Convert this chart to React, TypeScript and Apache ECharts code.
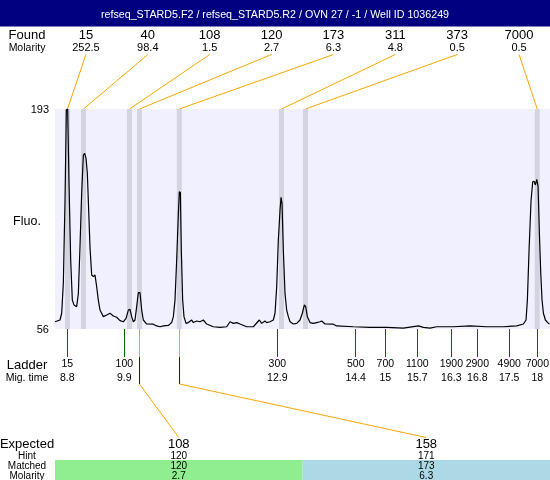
import React, { useEffect, useRef } from "react";
import * as echarts from "echarts";

const TITLE = "refseq_STARD5.F2 / refseq_STARD5.R2 / OVN 27 / -1 / Well ID 1036249";

const traceTimes = [
  8.56, 8.658, 8.691, 8.723, 8.756, 8.782, 8.808, 8.834, 8.867, 8.899, 8.932, 8.984,
  9.017, 9.049, 9.082, 9.115, 9.141, 9.167, 9.193, 9.219, 9.245, 9.278, 9.31, 9.343,
  9.376, 9.408, 9.441, 9.506, 9.572, 9.637, 9.702, 9.767, 9.833, 9.898, 9.95, 9.996,
  10.028, 10.061, 10.094, 10.126, 10.159, 10.191, 10.224, 10.257, 10.289, 10.355, 10.485,
  10.55, 10.616, 10.681, 10.779, 10.844, 10.877, 10.909, 10.942, 10.975, 10.994, 11.014,
  11.033, 11.059, 11.085, 11.125, 11.17, 11.236, 11.268, 11.333, 11.399, 11.464, 11.529,
  11.66, 11.79, 11.921, 11.986, 12.051, 12.117, 12.182, 12.312, 12.443, 12.56, 12.606,
  12.671, 12.704, 12.769, 12.834, 12.867, 12.9, 12.932, 12.965, 12.985, 13.004, 13.03,
  13.063, 13.095, 13.128, 13.161, 13.226, 13.291, 13.356, 13.402, 13.441, 13.467, 13.5,
  13.552, 13.617, 13.683, 13.748, 13.781, 13.846, 14.009, 14.074, 14.401, 14.727, 15.053,
  15.379, 15.673, 15.771, 15.901, 16.032, 16.358, 16.684, 17.011, 17.337, 17.598, 17.729,
  17.781, 17.807, 17.84, 17.879, 17.912, 17.938, 17.964, 17.991, 18.016, 18.042, 18.069,
  18.094, 18.121, 18.16, 18.206, 18.239,
];
const traceValues = [
  60.5, 61.6, 65.8, 84.4, 136, 192.5, 193, 147, 99, 74, 71, 69.9,
  78, 107, 140.5, 164.3, 165.4, 162.3, 153, 130, 107, 89.6, 88.6, 89.6,
  82.3, 74, 67.8, 63.7, 64.7, 65.8, 64.1, 63.3, 61.2, 60.5, 62.6, 67.8,
  68.2, 63.7, 60.5, 61.6, 69.9, 78.6, 78.6, 67.8, 61.6, 59.1, 59,
  57.9, 57.4, 57.9, 58.2, 60, 63.7, 74, 99, 128, 141.5, 141,
  105, 74, 63.7, 59.5, 60, 61.6, 60, 61, 60.5, 61.6, 59.1,
  57.4, 57, 57.4, 60.5, 59.5, 60, 59.1, 57.4, 57.4, 61.6, 59.5,
  61, 60, 60.5, 61.6, 65.8, 82.3, 111.4, 130, 138, 134.3, 105,
  78, 67.8, 63.7, 60.5, 59.1, 59.5, 61.6, 65.8, 71, 69.9, 63.7,
  60, 59.5, 60, 60.5, 61, 59.1, 59, 57.9, 57.4, 57, 57,
  56.6, 57.9, 57, 56.6, 57.4, 57.4, 57.9, 57.4, 57.4, 57.9, 59.1,
  61.6, 74, 105, 136, 147.7, 148, 145.7, 149.2, 145, 115.6, 90.7,
  74, 65.8, 61.6, 60, 59,
];

const foundSizes = [15, 40, 108, 120, 173, 311, 373, 7000];
const foundMolarity = ["252.5", "98.4", "1.5", "2.7", "6.3", "4.8", "0.5", "0.5"];
const foundTimes = [8.805, 9.118, 10.018, 10.214, 10.993, 12.994, 13.464, 18.0];

const ladderSizes = [15, 100, 300, 500, 700, 1100, 1900, 2900, 4900, 7000];
const ladderTimes = [8.8, 9.917, 12.912, 14.447, 15.026, 15.653, 16.318, 16.827, 17.452, 18.002];

const expectedSizes = [108, 158];
const hintSizes = [120, 171];
const matchedSizes = [120, 173];
const matchedMolarity = ["2.7", "6.3"];
const matchedTimes = [10.214, 10.993];
const matchedColors = ["#90ee90", "#add8e6"];

const Y_MIN = 56;
const Y_MAX = 193;
const T_MIN = 8.56;
const T_MAX = 18.25;
const BAND_HALF = 0.049;

const FONT = '"Liberation Sans", Arial, Helvetica, sans-serif';

function txt(text: string, x: number, y: number, size: number, align = "center", color = "#000") {
  return {
    type: "text",
    x,
    y,
    silent: true,
    style: {
      text,
      fill: color,
      font: `${size}px ${FONT}`,
      fontSize: size,
      fontFamily: FONT,
      textAlign: align,
      align,
      textVerticalAlign: "middle",
      verticalAlign: "middle",
    },
  };
}

function seg(x1: number, y1: number, x2: number, y2: number, color: string) {
  return {
    type: "line",
    silent: true,
    shape: { x1, y1, x2, y2 },
    style: { stroke: color, lineWidth: 1 },
  };
}

const crisp = (v: number) => Math.round(v - 0.5) + 0.5;

export default function App() {
  const ref = useRef<HTMLDivElement>(null);

  useEffect(() => {
    if (!ref.current) return;
    const chart = echarts.init(ref.current, undefined, { renderer: "svg" });
    chart.setOption({
      animation: false,
      grid: [
        { left: 55, top: 109, width: 495, height: 220, show: true, backgroundColor: "#f0f0ff", borderWidth: 0 },
        { left: 55, top: 460, width: 495, height: 20, show: false },
      ],
      xAxis: [
        { type: "value", gridIndex: 0, min: T_MIN, max: T_MAX, show: false },
        { type: "category", gridIndex: 0, data: foundSizes.map(String), show: false, position: "top" },
        { type: "category", gridIndex: 1, data: expectedSizes.map(String), show: false },
      ],
      yAxis: [
        { type: "value", gridIndex: 0, min: Y_MIN, max: Y_MAX, show: false },
        { type: "value", gridIndex: 1, min: 0, max: 1, show: false },
      ],
      series: [
        {
          type: "custom",
          xAxisIndex: 0,
          yAxisIndex: 0,
          z: 1,
          silent: true,
          data: foundTimes.map((t) => [t]),
          renderItem: (_p: any, api: any) => {
            const t = api.value(0);
            const a = api.coord([t - BAND_HALF, Y_MAX]);
            const b = api.coord([t + BAND_HALF, Y_MIN]);
            return {
              type: "rect",
              shape: { x: a[0], y: a[1], width: b[0] - a[0], height: b[1] - a[1] },
              style: { fill: "#d4d4e1" },
            };
          },
        },
        {
          type: "line",
          xAxisIndex: 0,
          yAxisIndex: 0,
          z: 3,
          silent: true,
          showSymbol: false,
          data: traceTimes.map((t, i) => [t, traceValues[i]]),
          lineStyle: { color: "#000", width: 1.2 },
        },
        {
          type: "bar",
          xAxisIndex: 2,
          yAxisIndex: 1,
          silent: true,
          barWidth: "100%",
          barCategoryGap: "0%",
          data: matchedSizes.map((_m, i) => ({ value: 1, itemStyle: { color: matchedColors[i] } })),
          label: {
            show: true,
            position: "inside",
            formatter: (p: any) => `${matchedSizes[p.dataIndex]}\n${matchedMolarity[p.dataIndex]}`,
            fontSize: 10,
            fontFamily: FONT,
            lineHeight: 10,
            color: "#000",
          },
        },
      ],
    });

    const px = (t: number) => chart.convertToPixel({ xAxisIndex: 0 }, t) as number;
    const py = (v: number) => chart.convertToPixel({ yAxisIndex: 0 }, v) as number;
    const foundX = (i: number) => chart.convertToPixel({ xAxisIndex: 1 }, i) as number;
    const expX = (i: number) => chart.convertToPixel({ xAxisIndex: 2 }, i) as number;

    const yTop = py(Y_MAX);
    const yBot = py(Y_MIN);
    const els: any[] = [];

    els.push({ type: "rect", silent: true, shape: { x: 0, y: 0, width: 550, height: 26.5 }, style: { fill: "#000080" } });
    els.push(txt(TITLE, 275, 13.5, 10.7, "center", "#fff"));

    els.push(txt("Found", 27, 34.3, 13));
    els.push(txt("Molarity", 27, 46.7, 10.5));
    foundSizes.forEach((s, i) => {
      const cx = foundX(i);
      els.push(txt(String(s), cx, 34.3, 13));
      els.push(txt(foundMolarity[i], cx, 46.7, 11));
      els.push(seg(cx, 54.5, px(foundTimes[i]), yTop, "#ffa500"));
    });

    els.push(txt(String(Y_MAX), 49, yTop, 11, "right"));
    els.push(txt(String(Y_MIN), 49, yBot, 11, "right"));
    els.push(txt("Fluo.", 27, 220.7, 12.5));

    els.push(txt("Ladder", 27, 364, 13));
    els.push(txt("Mig. time", 27, 377, 10.5));
    ladderSizes.forEach((s, i) => {
      const x = px(ladderTimes[i]);
      const cx = crisp(x);
      els.push(seg(cx, yBot, cx, 357, "#006400"));
      els.push(txt(String(s), x, 363.3, 10.5));
      els.push(txt(String(Number(ladderTimes[i].toFixed(1))), x, 377, 10.5));
    });

    matchedTimes.forEach((t, i) => {
      const x = crisp(px(t));
      els.push(seg(x, yBot, x, 357, "#ffa500"));
      els.push(seg(x, 357, x, 384, "#0000ff"));
      els.push(seg(x, 384, expX(i), 437.5, "#ffa500"));
    });

    els.push(txt("Expected", 27, 443, 13));
    els.push(txt("Hint", 27, 455, 10));
    els.push(txt("Matched", 27, 465, 10));
    els.push(txt("Molarity", 27, 475, 10));
    expectedSizes.forEach((s, i) => {
      const cx = expX(i);
      els.push(txt(String(s), cx, 443, 13));
      els.push(txt(String(hintSizes[i]), cx, 455, 10));
    });

    chart.setOption({ graphic: els });

    return () => chart.dispose();
  }, []);

  return <div ref={ref} style={{ position: "fixed", left: 0, top: 0, width: 550, height: 480 }} />;
}
